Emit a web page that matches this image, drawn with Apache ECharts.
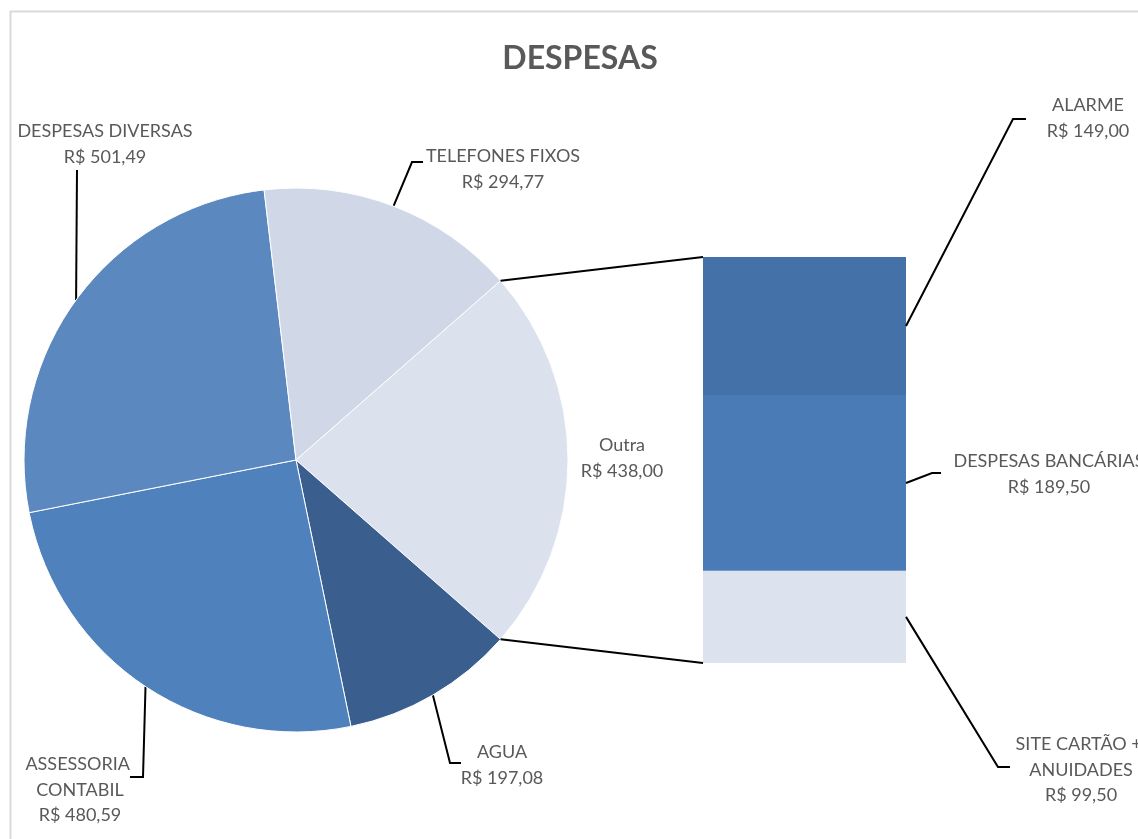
<!DOCTYPE html>
<html>
<head>
<meta charset="utf-8">
<script src="https://cdn.jsdelivr.net/npm/echarts@6/dist/echarts.min.js"></script>
<style>
html,body{margin:0;padding:0;background:#fff;}
#c{width:1138px;height:839px;}
</style>
</head>
<body>
<div id="c"></div>
<script>
// ---- data ----
const pieNames = ['Outra', 'AGUA', 'ASSESSORIA CONTABIL', 'DESPESAS DIVERSAS', 'TELEFONES FIXOS'];
const pieValues = [null, 197.08, 480.59, 501.49, 294.77];
const barNames = ['SITE CARTÃO + ANUIDADES', 'DESPESAS BANCÁRIAS', 'ALARME'];
const barValues = [99.50, 189.50, 149.00];
const titleText = 'DESPESAS';

// "Outra" is the sum of the bar parts
const outraValue = barValues.reduce((a, b) => a + b, 0);
pieValues[0] = outraValue;
const pieTotal = pieValues.reduce((a, b) => a + b, 0);

// ---- layout / style ----
const FONT = 'Lato';
const TXT = '#595959';
const pieCenter = [296, 460];
const pieRadius = 272;
const outraAngle = outraValue / pieTotal * 360;
const startAngle = outraAngle / 2;
const pieColors = ['#dce1ee', '#3a5f8e', '#4f81bd', '#5b88be', '#d0d8e8'];
const barColors = ['#dce2ee', '#4a7bb7', '#4472a8'];
const grid = { left: 703, top: 257, width: 203, height: 406 };

// label placement (style)
const pieLabelPos = {
  'Outra': { x: 622, y: 458, pts: null },
  'AGUA': { x: 502, y: 765, pts: [[450, 763], [461, 763]] },
  'ASSESSORIA CONTABIL': { x: 80, y: 790, pts: [[143, 777], [130, 777]] },
  'DESPESAS DIVERSAS': { x: 105, y: 144, pts: [[77, 170], [77, 170]] },
  'TELEFONES FIXOS': { x: 503, y: 169, pts: [[412, 162], [423, 162]] }
};
const barLabelPos = {
  'ALARME': { x: 1088, y: 118, pts: [[1013, 119], [1026, 119]] },
  'DESPESAS BANCÁRIAS': { x: 1049, y: 474, pts: [[932, 473], [941, 473]] },
  'SITE CARTÃO + ANUIDADES': { x: 1081, y: 770, pts: [[998, 767], [1010, 767]] }
};

function fmtBRL(v) {
  return 'R$ ' + v.toFixed(2).replace('.', ',');
}

const chart = echarts.init(document.getElementById('c'), null, { renderer: 'canvas' });

const labelText = {
  color: TXT, fontFamily: FONT, fontSize: 18, lineHeight: 25.5, align: 'center'
};

const pieData = pieNames.map((n, i) => {
  const d = { name: n, value: pieValues[i], itemStyle: { color: pieColors[i] } };
  if (n === 'ASSESSORIA CONTABIL') d.label = { width: 130, overflow: 'break' };
  if (n === 'Outra') d.labelLine = { show: false };
  return d;
});

const barSeries = barNames.map((n, i) => ({
  type: 'bar',
  name: n,
  stack: 'outra',
  barWidth: '100%',
  data: [barValues[i]],
  itemStyle: { color: barColors[i] },
  label: Object.assign({
    show: true,
    position: 'right',
    formatter: p => p.seriesName + '\n' + fmtBRL(p.value)
  }, labelText, n === 'SITE CARTÃO + ANUIDADES' ? { width: 140, overflow: 'break' } : { overflow: 'none' }),
  labelLayout: function () {
    const pos = barLabelPos[n];
    return { x: pos.x, y: pos.y, align: 'center', verticalAlign: 'middle' };
  },
  silent: true
}));

const option = {
  animation: false,
  backgroundColor: '#fff',
  title: {
    text: titleText, left: 575, top: 38, textAlign: 'center',
    textStyle: { color: TXT, fontFamily: FONT, fontSize: 32, fontWeight: 'bold' }
  },
  grid: grid,
  xAxis: { type: 'category', data: ['Outra'], show: false },
  yAxis: { type: 'value', min: 0, max: outraValue, show: false },
  series: [
    {
      type: 'pie',
      center: pieCenter,
      radius: pieRadius,
      startAngle: startAngle,
      clockwise: true,
      data: pieData,
      itemStyle: { borderColor: '#ffffff', borderWidth: 1 },
      label: Object.assign({
        show: true, position: 'outside', overflow: 'none',
        formatter: p => p.name + '\n' + fmtBRL(p.value)
      }, labelText),
      labelLine: { show: true, lineStyle: { color: '#000', width: 2 }, length: 10, length2: 10 },
      labelLayout: function (params) {
        const name = pieNames[params.dataIndex];
        const pos = pieLabelPos[name];
        const res = { x: pos.x, y: pos.y, align: 'center', verticalAlign: 'middle' };
        if (pos.pts && params.labelLinePoints) {
          res.labelLinePoints = [params.labelLinePoints[0], pos.pts[0], pos.pts[1]];
        }
        return res;
      },
      silent: true
    }
  ].concat(barSeries)
};

chart.setOption(option);

// connector lines and bar leader lines
function extras() {
  const a1 = startAngle * Math.PI / 180;
  const a2 = (startAngle - outraAngle) * Math.PI / 180;
  const p1 = [pieCenter[0] + pieRadius * Math.cos(a1), pieCenter[1] - pieRadius * Math.sin(a1)];
  const p2 = [pieCenter[0] + pieRadius * Math.cos(a2), pieCenter[1] - pieRadius * Math.sin(a2)];
  const topPx = chart.convertToPixel({ gridIndex: 0 }, ['Outra', outraValue]);
  const botPx = chart.convertToPixel({ gridIndex: 0 }, ['Outra', 0]);
  const barLeft = grid.left;
  const barRight = grid.left + grid.width;
  const g = [
    { type: 'rect', shape: { x: 10.5, y: 11.5, width: 1300, height: 1000 }, style: { fill: null, stroke: '#d9d9d9', lineWidth: 2 }, silent: true, z: 0 },
    { type: 'line', shape: { x1: p1[0], y1: p1[1], x2: barLeft, y2: topPx[1] }, style: { stroke: '#000', lineWidth: 2 }, silent: true, z: 10 },
    { type: 'line', shape: { x1: p2[0], y1: p2[1], x2: barLeft, y2: botPx[1] }, style: { stroke: '#000', lineWidth: 2 }, silent: true, z: 10 }
  ];
  let cum = 0;
  barNames.forEach((n, i) => {
    const mid = cum + barValues[i] / 2;
    cum += barValues[i];
    const py = chart.convertToPixel({ gridIndex: 0 }, ['Outra', mid])[1];
    const pos = barLabelPos[n];
    g.push({
      type: 'polyline',
      shape: { points: [[barRight, py], pos.pts[0], pos.pts[1]] },
      style: { stroke: '#000', lineWidth: 2, fill: null },
      silent: true, z: 10
    });
  });
  chart.setOption({ graphic: g });
}
extras();
</script>
</body>
</html>
